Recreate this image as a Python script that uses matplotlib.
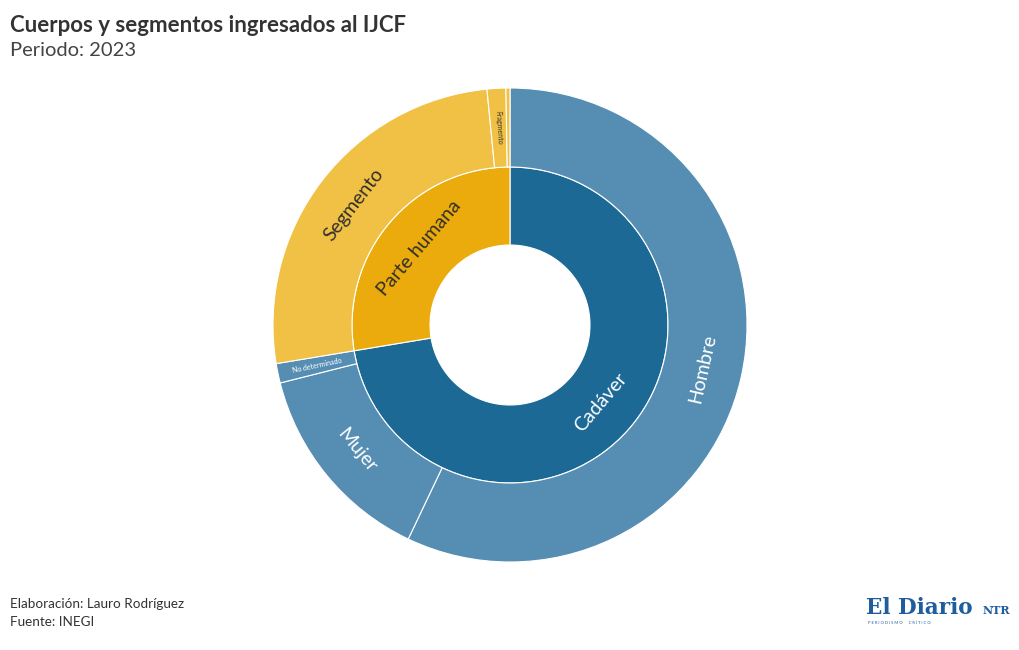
import numpy as np
import matplotlib
matplotlib.use('Agg')
import matplotlib.pyplot as plt

plt.rcParams['font.family'] = ['Lato', 'DejaVu Sans']

# datos
padres = ['Cadáver', 'Parte humana']
hijos = ['Hombre', 'Mujer', 'No determinado', 'Segmento', 'Fragmento', 'Otro']
hijos_padre = ['Cadáver', 'Cadáver', 'Cadáver', 'Parte humana', 'Parte humana', 'Parte humana']
hijos_val = [2282, 560, 53, 1042, 51, 11]

col_padre = {'Cadáver': '#1d6996', 'Parte humana': '#ebab0c'}
col_hijo = {'Cadáver': '#568eb3', 'Parte humana': '#f0c145'}
txt_col = {'Cadáver': 'white', 'Parte humana': '#33302a'}

padres_val = [sum(v for v, p in zip(hijos_val, hijos_padre) if p == q) for q in padres]

fig = plt.figure(figsize=(10.2, 6.5), dpi=100)
W, H = 1020., 650.
cx, cy, R = 510., 325., 237.
ax = fig.add_axes([(cx - R) / W, (H - cy - R) / H, 2 * R / W, 2 * R / H])

r_in = 80. / R
r_mid = 158. / R

ax.pie(padres_val, radius=r_mid, startangle=90, counterclock=False,
       colors=[col_padre[p] for p in padres],
       wedgeprops=dict(width=r_mid - r_in, edgecolor='white', linewidth=0.8))
ax.pie(hijos_val, radius=1.0, startangle=90, counterclock=False,
       colors=[col_hijo[p] for p in hijos_padre],
       wedgeprops=dict(width=1.0 - r_mid, edgecolor='white', linewidth=0.8))
ax.set_xlim(-1, 1)
ax.set_ylim(-1, 1)
ax.set_aspect('equal')
ax.axis('off')


def etiquetas(vals, nombres, grupos, r0, r1, big=14, small=5):
    tot = float(sum(vals))
    acc = 0.
    for v, n, g in zip(vals, nombres, grupos):
        frac = v / tot
        mid = 90 - 360 * (acc + frac / 2)
        acc += frac
        if frac < 0.005:
            continue
        rr = (r0 + r1) / 2
        x = rr * np.cos(np.radians(mid))
        y = rr * np.sin(np.radians(mid))
        if frac > 0.05:
            rot = mid + 90   # tangencial
            fs = big
        else:
            rot = mid        # radial
            fs = small
        rot = (rot + 180) % 360 - 180
        if rot > 90:
            rot -= 180
        elif rot < -90:
            rot += 180
        ax.text(x, y, n, rotation=rot, rotation_mode='anchor', ha='center', va='center',
                fontsize=fs, color=txt_col[g])


etiquetas(padres_val, padres, padres, r_in, r_mid)
etiquetas(hijos_val, hijos, hijos_padre, r_mid, 1.0)

fig.text(10 / W, 1 - 25 / H, 'Cuerpos y segmentos ingresados al IJCF', fontsize=16,
         fontweight='bold', color='#333333', va='center', ha='left')
fig.text(10 / W, 1 - 50 / H, 'Periodo: 2023', fontsize=14.5, color='#444444', va='center', ha='left')
fig.text(10 / W, 1 - 604 / H, 'Elaboración: Lauro Rodríguez', fontsize=9.7, color='#333333', va='center')
fig.text(10 / W, 1 - 622 / H, 'Fuente: INEGI', fontsize=9.7, color='#333333', va='center')

# logo
fig.text(866 / W, 1 - 608 / H, 'El Diario', fontsize=15.5, fontweight='heavy', family='DejaVu Serif',
         color='#1f5d9c', va='center', ha='left')
fig.text(1010 / W, 1 - 610 / H, 'NTR', fontsize=8, fontweight='bold', family='DejaVu Serif',
         color='#1f5d9c', va='center', ha='right')
fig.text(868 / W, 1 - 623 / H, 'P E R I O D I S M O      C R Í T I C O', fontsize=3,
         color='#1f5d9c', va='center', ha='left')

fig.savefig('out.png', dpi=100)
